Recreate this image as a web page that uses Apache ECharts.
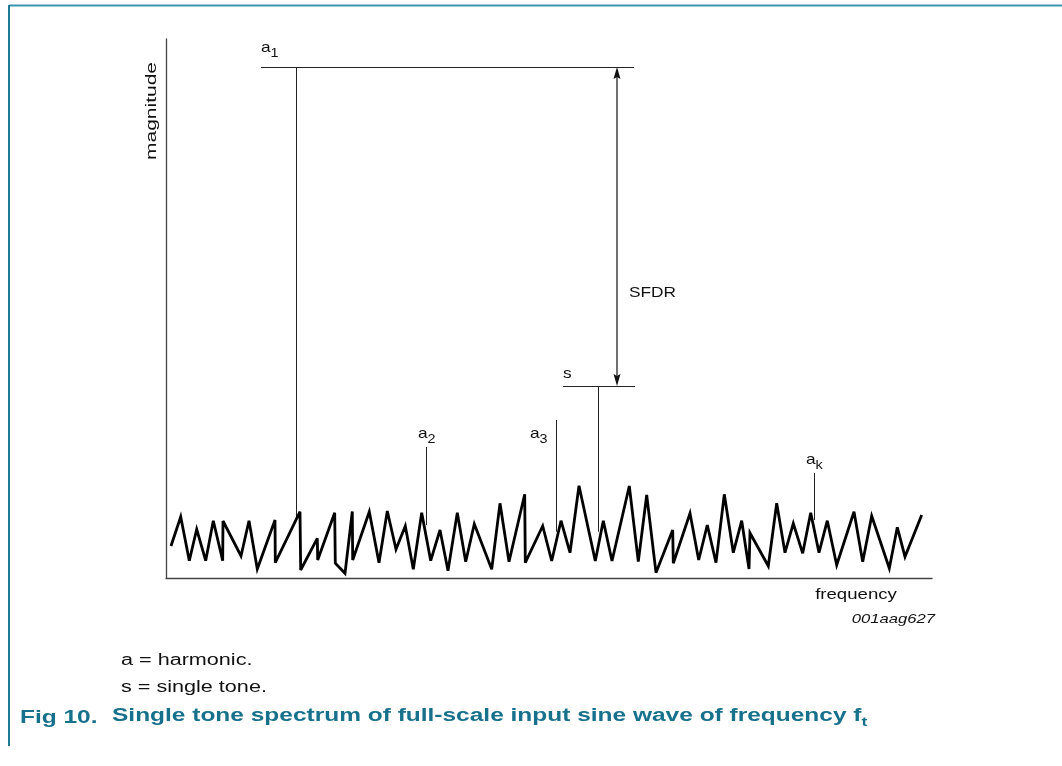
<!DOCTYPE html>
<html><head><meta charset="utf-8">
<script src="https://cdn.jsdelivr.net/npm/echarts@6/dist/echarts.min.js"></script>
<style>html,body{margin:0;padding:0;background:#fff}#c{width:1062px;height:766px}</style>
</head><body><div id="c"></div>
<script>
// Noise floor (frequency, magnitude) in arbitrary units
const noiseFreq = [5,14.7,23.3,30.7,39.7,47.3,56.7,57,75,83,91.3,109,109.3,134,134.7,151.3,151.7,168.7,169.3,179,186.3,186.7,203.3,213,221.3,230,239.3,247.3,255.7,264.7,274,282,291.3,299.7,308.3,325.7,334,343,358.7,359.3,376.7,385.7,395,404,413,429.3,437.3,446,463.3,472.3,480.7,490,506.7,507.3,524,532.7,541.3,550,558.3,567.3,575.7,583,584,602.3,610.7,619,627.3,636.7,644.7,653,661.3,670.7,688,696.7,705.7,723.3,731.3,739,755.7];
const noiseMag = [32,61.3,17.3,48.7,17.3,57.3,17.3,57,22,57.3,9,58,15.3,66.3,8,39.7,18,65.3,14.7,4.7,66.5,18,66.3,15.3,67,28.7,52,8.7,65.3,17.3,48,7.3,65.3,16.3,54,8.7,74.7,16.3,83.7,15.3,52,17,57.3,25.3,92.3,17,57.3,17,92,16.3,83,5.3,48,14.7,64.7,18,53,15.3,83.7,25.3,57.3,9,45,12,74.7,25.3,54.7,24.7,65.3,25.3,57.3,13,66.3,16.3,62,9.7,50.7,21.3,63];

// Spectral lines: a1, a2, a3, s, ak
const stemFreq = [130.5, 260.7, 390, 432.7, 648.3];
const stemLow  = [61.3, 53, 46.3, 46.3, 58];
const stemHigh = [511, 131, 158, 192, 105];

// Reference levels (a1 and s)
const refFrom  = [95, 397];
const refTo    = [468, 469];
const refLevel = [511, 192];

// SFDR arrow
const sfdrFreq = 451, sfdrLow = 192, sfdrHigh = 511;

// Annotation labels (anchor = left edge, vertical middle)
const labelMain = ['a', 'a', 'a', 'a', 's', 'SFDR'];
const labelSub  = ['1', '2', '3', 'k', '', ''];
const labelFreq = [95, 252, 364, 640, 397, 463];
const labelMag  = [528, 142, 142, 116, 202, 283];

const FONT = 'Arial, "Liberation Sans", Helvetica, sans-serif';
const TEAL = '#17718c';

const chart = echarts.init(document.getElementById('c'), null, {renderer: 'canvas'});

const lineSegs = [];
for (let i = 0; i < stemFreq.length; i++) lineSegs.push({coords: [[stemFreq[i], stemLow[i]], [stemFreq[i], stemHigh[i]]]});
for (let i = 0; i < refFrom.length; i++) lineSegs.push({coords: [[refFrom[i], refLevel[i]], [refTo[i], refLevel[i]]]});

function arrowRender(params, api) {
  const p1 = api.coord([api.value(0), api.value(1)]);
  const p2 = api.coord([api.value(0), api.value(2)]);
  const w = 3.5, h = 12;
  return {type: 'group', children: [
    {type: 'line', shape: {x1: p1[0], y1: p1[1] - h + 2, x2: p2[0], y2: p2[1] + h - 2}, style: {stroke: '#111', lineWidth: 1.2}},
    {type: 'polygon', shape: {points: [[p2[0], p2[1]], [p2[0] - w, p2[1] + h], [p2[0], p2[1] + h - 2], [p2[0] + w, p2[1] + h]]}, style: {fill: '#111'}},
    {type: 'polygon', shape: {points: [[p1[0], p1[1]], [p1[0] - w, p1[1] - h], [p1[0], p1[1] - h + 2], [p1[0] + w, p1[1] - h]]}, style: {fill: '#111'}}
  ]};
}

chart.setOption({
  animation: false,
  backgroundColor: '#fff',
  grid: {left: 166, right: 130, top: 39, bottom: 188, containLabel: false},
  xAxis: {type: 'value', min: 0, max: 766, axisLine: {show: true, onZero: true, lineStyle: {color: '#444', width: 1.3}},
          axisTick: {show: false}, axisLabel: {show: false}, splitLine: {show: false}},
  yAxis: {type: 'value', min: 0, max: 539, axisLine: {show: true, lineStyle: {color: '#444', width: 1.3}},
          axisTick: {show: false}, axisLabel: {show: false}, splitLine: {show: false}},
  series: [
    {type: 'line', data: noiseFreq.map((f, i) => [f, noiseMag[i]]), symbol: 'none',
     lineStyle: {color: '#000', width: 2.8, join: 'miter', miterLimit: 4}, z: 3},
    {type: 'lines', coordinateSystem: 'cartesian2d', data: lineSegs, symbol: 'none',
     lineStyle: {color: '#222', width: 1, opacity: 1}, z: 2},
    {type: 'custom', renderItem: arrowRender, data: [[sfdrFreq, sfdrLow, sfdrHigh]], z: 2}
  ]
});

const labelGraphics = labelFreq.map((f, i) => {
  const p = chart.convertToPixel({gridIndex: 0}, [f, labelMag[i]]);
  const txt = '{m|' + labelMain[i] + '}' + (labelSub[i] ? '{s|' + labelSub[i] + '}' : '');
  return {type: 'text', x: p[0], y: p[1], scaleX: 1.15, z: 10,
    style: {text: txt, textAlign: 'left', textVerticalAlign: 'middle',
      rich: {m: {fontSize: 15, fontFamily: FONT, fill: '#111', lineHeight: 20, verticalAlign: 'top'},
             s: {fontSize: 12.5, fontFamily: FONT, fill: '#111', lineHeight: 12, verticalAlign: 'bottom'}}}};
});

chart.setOption({
  graphic: [
    {type: 'line', shape: {x1: 9, y1: 5.5, x2: 1062, y2: 5.5}, style: {stroke: '#3a96b0', lineWidth: 2}},
    {type: 'line', shape: {x1: 9, y1: 5, x2: 9, y2: 746}, style: {stroke: '#1f7a93', lineWidth: 2}},
    {type: 'text', x: 152, y: 111, rotation: Math.PI / 2, scaleX: 1.4,
     style: {text: 'magnitude', font: '15px ' + FONT, fill: '#111', textAlign: 'center', textVerticalAlign: 'middle'}},
    {type: 'text', x: 856, y: 595, scaleX: 1.24,
     style: {text: 'frequency', font: '15px ' + FONT, fill: '#111', textAlign: 'center', textVerticalAlign: 'middle'}},
    {type: 'text', x: 935, y: 619, scaleX: 1.28,
     style: {text: '001aag627', font: 'italic 13px ' + FONT, fill: '#111', textAlign: 'right', textVerticalAlign: 'middle'}},
    {type: 'text', x: 121, y: 661, scaleX: 1.35,
     style: {text: 'a = harmonic.', font: '16px ' + FONT, fill: '#111', textAlign: 'left', textVerticalAlign: 'middle'}},
    {type: 'text', x: 121, y: 688, scaleX: 1.35,
     style: {text: 's = single tone.', font: '16px ' + FONT, fill: '#111', textAlign: 'left', textVerticalAlign: 'middle'}},
    {type: 'text', x: 20, y: 718, scaleX: 1.36,
     style: {text: 'Fig 10.', font: 'bold 18px ' + FONT, fill: TEAL, textAlign: 'left', textVerticalAlign: 'middle'}},
    {type: 'text', x: 112, y: 718, scaleX: 1.36,
     style: {text: '{b|Single tone spectrum of full-scale input sine wave of frequency f}{t|t}',
       textAlign: 'left', textVerticalAlign: 'middle',
       rich: {b: {font: 'bold 18px ' + FONT, fill: TEAL, lineHeight: 22, verticalAlign: 'top'},
              t: {font: 'bold 13px ' + FONT, fill: TEAL, lineHeight: 14, verticalAlign: 'bottom'}}}}
  ].concat(labelGraphics)
});
</script>
</body></html>
